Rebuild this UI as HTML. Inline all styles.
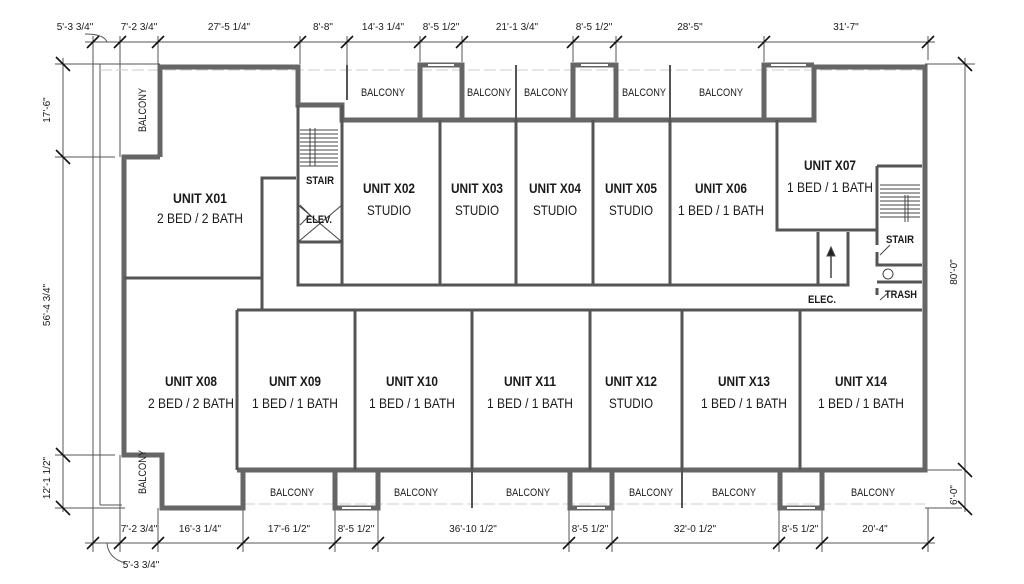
<!DOCTYPE html>
<html><head><meta charset="utf-8"><style>
html,body{margin:0;padding:0;background:#fff;}
svg{display:block;}
text{font-family:"Liberation Sans",sans-serif;fill:#1a1a1a;}
.u{font-size:14px;font-weight:bold;}
.s{font-size:14px;}
.b{font-size:11px;}
.d{font-size:10px;}
</style></head><body>
<svg width="1024" height="584" viewBox="0 0 1024 584" xmlns="http://www.w3.org/2000/svg">
<g stroke="#555" stroke-width="1" fill="none">
<line x1="85" y1="42" x2="935" y2="42"/>
<line x1="55" y1="64" x2="160" y2="64"/>
<line x1="925" y1="64" x2="975" y2="64"/>
<line x1="55" y1="157" x2="115" y2="157"/>
<line x1="55" y1="455" x2="115" y2="455"/>
<line x1="55" y1="508" x2="125" y2="508"/>
<line x1="63" y1="58" x2="63" y2="512"/>
<line x1="965" y1="58" x2="965" y2="512"/>
<line x1="925" y1="470" x2="962" y2="470"/>
<line x1="925" y1="508" x2="962" y2="508"/>
<line x1="85" y1="543" x2="935" y2="543"/>
<line x1="93" y1="36" x2="93" y2="552"/>
<line x1="100" y1="64" x2="100" y2="505"/>
<line x1="100" y1="505" x2="122" y2="505"/>
<line x1="120" y1="36" x2="120" y2="157"/>
<line x1="120" y1="455" x2="120" y2="552"/>
<line x1="158" y1="36" x2="158" y2="64"/>
<line x1="300" y1="36" x2="300" y2="64"/>
<line x1="347" y1="36" x2="347" y2="100"/>
<line x1="420" y1="36" x2="420" y2="62"/>
<line x1="462" y1="36" x2="462" y2="62"/>
<line x1="573" y1="36" x2="573" y2="62"/>
<line x1="616" y1="36" x2="616" y2="62"/>
<line x1="764" y1="36" x2="764" y2="62"/>
<line x1="928" y1="36" x2="928" y2="60"/>
<line x1="158" y1="508" x2="158" y2="552"/>
<line x1="243" y1="508" x2="243" y2="552"/>
<line x1="335" y1="508" x2="335" y2="552"/>
<line x1="378" y1="508" x2="378" y2="552"/>
<line x1="569" y1="508" x2="569" y2="552"/>
<line x1="612" y1="508" x2="612" y2="552"/>
<line x1="779" y1="508" x2="779" y2="552"/>
<line x1="822" y1="508" x2="822" y2="552"/>
<line x1="928" y1="508" x2="928" y2="552"/>
<line x1="100" y1="70" x2="925" y2="70" stroke="#ccc" stroke-dasharray="12 4"/>
<line x1="243" y1="504" x2="925" y2="504" stroke="#ccc" stroke-dasharray="12 4"/>
</g>
<g stroke="#111" stroke-width="1.6">
<path d="M87 48l12-12M114 48l12-12M152 48l12-12M294 48l12-12M341 48l12-12M414 48l12-12M456 48l12-12M567 48l12-12M610 48l12-12M758 48l12-12M922 48l12-12"/>
<path d="M87 549l12-12M114 549l12-12M152 549l12-12M237 549l12-12M329 549l12-12M372 549l12-12M563 549l12-12M606 549l12-12M773 549l12-12M816 549l12-12M922 549l12-12"/>
<path d="M56 57l14 14M56 150l14 14M56 448l14 14M56 501l14 14M958 57l14 14M958 463l14 14M958 501l14 14"/>
</g>
<path d="M85 34 Q104 34 107 42" stroke="#555" fill="none"/>
<path d="M107 543 Q108 558 125 563" stroke="#555" fill="none"/>
<g stroke="#666" stroke-width="5" fill="none" stroke-linejoin="miter">
<path d="M160 157 V67 H298 V105 H342 V120 H814 V67 H925 V470 H237"/>
<path d="M420 120 V65 H462 V120 M573 120 V65 H616 V120 M764 120 V65 H814"/>
<path d="M160 157 H124 V455 H162 V508 H243 V470"/>
<path d="M335 470 V508 H378 V470 M570 470 V508 H612 V470 M780 470 V508 H822 V470"/>
</g>
<g stroke="#fff" stroke-width="2"><path d="M428 65 H454 M581 65 H608 M771 65 H806 M342 508 H371 M577 508 H605 M787 508 H815"/></g>
<g stroke="#555" stroke-width="3" fill="none">
<path d="M298 105 V242 H342 V105"/>
<path d="M342 120 V285 H818"/>
<path d="M440 120 V285 M516 120 V285 M593 120 V285 M670 120 V285"/>
<path d="M777 120 V230 H877"/>
<path d="M818 232 V285 H848 V232"/>
<path d="M877 166 H922 M877 166 V245 M877 252 V265 H922 M877 282 H922 M877 288 V295"/>
<path d="M124 278 H262 V178 H296"/>
<path d="M262 278 V310"/>
<path d="M298 215 V285 H342"/>
<path d="M237 310 H922 M237 310 V470"/>
<path d="M355 310 V470 M472 310 V470 M590 310 V470 M682 310 V470 M800 310 V470"/>
<path d="M472 470 V508 M682 470 V508" stroke-width="2"/>
<path d="M516 65 V120 M670 65 V120 M347 65 V100" stroke-width="2"/>
</g>
<g stroke="#444" stroke-width="1" fill="none">
<path d="M300 130 H338 M300 134 H338 M300 138 H338 M300 142 H338 M300 146 H338 M300 150 H338 M300 154 H338 M300 158 H338 M300 162 H338 M300 166 H338"/>
<path d="M310 128 V166 M315 128 V166"/>
<path d="M880 185 H920 M880 189 H920 M880 193 H920 M880 197 H920 M880 201 H920 M880 205 H920 M880 209 H920 M880 213 H920 M880 217 H920"/>
<path d="M905 195 V222 M908 195 V222"/>
<path d="M300 205 L310 215 L300 225 M298 205 L342 242 M342 205 L298 242"/>
<circle cx="888" cy="274" r="5"/>
<path d="M831 278 V252" stroke-width="1.5"/>
<path d="M827 256 L831 247 L835 256 Z" fill="#222"/>
<path d="M880 255 L890 245 M880 300 L888 293"/>
</g>
<g text-anchor="middle" lengthAdjust="spacingAndGlyphs">
<text class="u" x="200" y="203" textLength="54" lengthAdjust="spacingAndGlyphs">UNIT X01</text><text class="s" x="200" y="223" textLength="86" lengthAdjust="spacingAndGlyphs">2 BED / 2 BATH</text>
<text class="u" x="389" y="193" textLength="52" lengthAdjust="spacingAndGlyphs">UNIT X02</text><text class="s" x="389" y="215" textLength="44" lengthAdjust="spacingAndGlyphs">STUDIO</text>
<text class="u" x="477" y="193" textLength="52" lengthAdjust="spacingAndGlyphs">UNIT X03</text><text class="s" x="477" y="215" textLength="44" lengthAdjust="spacingAndGlyphs">STUDIO</text>
<text class="u" x="555" y="193" textLength="52" lengthAdjust="spacingAndGlyphs">UNIT X04</text><text class="s" x="555" y="215" textLength="44" lengthAdjust="spacingAndGlyphs">STUDIO</text>
<text class="u" x="631" y="193" textLength="52" lengthAdjust="spacingAndGlyphs">UNIT X05</text><text class="s" x="631" y="215" textLength="44" lengthAdjust="spacingAndGlyphs">STUDIO</text>
<text class="u" x="721" y="193" textLength="52" lengthAdjust="spacingAndGlyphs">UNIT X06</text><text class="s" x="721" y="215" textLength="86" lengthAdjust="spacingAndGlyphs">1 BED / 1 BATH</text>
<text class="u" x="830" y="170" textLength="52" lengthAdjust="spacingAndGlyphs">UNIT X07</text><text class="s" x="830" y="192" textLength="86" lengthAdjust="spacingAndGlyphs">1 BED / 1 BATH</text>
<text class="u" x="191" y="386" textLength="52" lengthAdjust="spacingAndGlyphs">UNIT X08</text><text class="s" x="191" y="408" textLength="86" lengthAdjust="spacingAndGlyphs">2 BED / 2 BATH</text>
<text class="u" x="295" y="386" textLength="52" lengthAdjust="spacingAndGlyphs">UNIT X09</text><text class="s" x="295" y="408" textLength="86" lengthAdjust="spacingAndGlyphs">1 BED / 1 BATH</text>
<text class="u" x="412" y="386" textLength="52" lengthAdjust="spacingAndGlyphs">UNIT X10</text><text class="s" x="412" y="408" textLength="86" lengthAdjust="spacingAndGlyphs">1 BED / 1 BATH</text>
<text class="u" x="530" y="386" textLength="52" lengthAdjust="spacingAndGlyphs">UNIT X11</text><text class="s" x="530" y="408" textLength="86" lengthAdjust="spacingAndGlyphs">1 BED / 1 BATH</text>
<text class="u" x="631" y="386" textLength="52" lengthAdjust="spacingAndGlyphs">UNIT X12</text><text class="s" x="631" y="408" textLength="44" lengthAdjust="spacingAndGlyphs">STUDIO</text>
<text class="u" x="744" y="386" textLength="52" lengthAdjust="spacingAndGlyphs">UNIT X13</text><text class="s" x="744" y="408" textLength="86" lengthAdjust="spacingAndGlyphs">1 BED / 1 BATH</text>
<text class="u" x="861" y="386" textLength="52" lengthAdjust="spacingAndGlyphs">UNIT X14</text><text class="s" x="861" y="408" textLength="86" lengthAdjust="spacingAndGlyphs">1 BED / 1 BATH</text>
<text class="b" x="383" y="96" textLength="44" lengthAdjust="spacingAndGlyphs">BALCONY</text>
<text class="b" x="489" y="96" textLength="44" lengthAdjust="spacingAndGlyphs">BALCONY</text>
<text class="b" x="546" y="96" textLength="44" lengthAdjust="spacingAndGlyphs">BALCONY</text>
<text class="b" x="644" y="96" textLength="44" lengthAdjust="spacingAndGlyphs">BALCONY</text>
<text class="b" x="721" y="96" textLength="44" lengthAdjust="spacingAndGlyphs">BALCONY</text>
<text class="b" x="292" y="496" textLength="44" lengthAdjust="spacingAndGlyphs">BALCONY</text>
<text class="b" x="416" y="496" textLength="44" lengthAdjust="spacingAndGlyphs">BALCONY</text>
<text class="b" x="528" y="496" textLength="44" lengthAdjust="spacingAndGlyphs">BALCONY</text>
<text class="b" x="651" y="496" textLength="44" lengthAdjust="spacingAndGlyphs">BALCONY</text>
<text class="b" x="734" y="496" textLength="44" lengthAdjust="spacingAndGlyphs">BALCONY</text>
<text class="b" x="873" y="496" textLength="44" lengthAdjust="spacingAndGlyphs">BALCONY</text>
<text class="b" x="146" y="110" transform="rotate(-90 146 110)" textLength="44" lengthAdjust="spacingAndGlyphs">BALCONY</text>
<text class="b" x="146" y="472" transform="rotate(-90 146 472)" textLength="44" lengthAdjust="spacingAndGlyphs">BALCONY</text>
<text class="b" font-weight="bold" x="320" y="184" textLength="28" lengthAdjust="spacingAndGlyphs">STAIR</text>
<text class="b" font-weight="bold" x="319" y="223" textLength="26" lengthAdjust="spacingAndGlyphs">ELEV.</text>
<text class="b" font-weight="bold" x="900" y="243" textLength="28" lengthAdjust="spacingAndGlyphs">STAIR</text>
<text class="b" font-weight="bold" x="901" y="298" textLength="32" lengthAdjust="spacingAndGlyphs">TRASH</text>
<text class="b" font-weight="bold" x="822" y="303" textLength="28" lengthAdjust="spacingAndGlyphs">ELEC.</text>
<text class="d" x="75" y="30">5'-3 3/4"</text>
<text class="d" x="139" y="30">7'-2 3/4"</text>
<text class="d" x="229" y="30">27'-5 1/4"</text>
<text class="d" x="323" y="30">8'-8"</text>
<text class="d" x="383" y="30">14'-3 1/4"</text>
<text class="d" x="441" y="30">8'-5 1/2"</text>
<text class="d" x="517" y="30">21'-1 3/4"</text>
<text class="d" x="594" y="30">8'-5 1/2"</text>
<text class="d" x="690" y="30">28'-5"</text>
<text class="d" x="846" y="30">31'-7"</text>
<text class="d" x="139" y="532">7'-2 3/4"</text>
<text class="d" x="200" y="532">16'-3 1/4"</text>
<text class="d" x="289" y="532">17'-6 1/2"</text>
<text class="d" x="356" y="532">8'-5 1/2"</text>
<text class="d" x="473" y="532">36'-10 1/2"</text>
<text class="d" x="590" y="532">8'-5 1/2"</text>
<text class="d" x="695" y="532">32'-0 1/2"</text>
<text class="d" x="800" y="532">8'-5 1/2"</text>
<text class="d" x="875" y="532">20'-4"</text>
<text class="d" x="141" y="568">5'-3 3/4"</text>
<text class="d" x="50" y="110" transform="rotate(-90 50 110)">17'-6"</text>
<text class="d" x="50" y="305" transform="rotate(-90 50 305)">56'-4 3/4"</text>
<text class="d" x="50" y="478" transform="rotate(-90 50 478)">12'-1 1/2"</text>
<text class="d" x="957" y="272" transform="rotate(-90 957 272)">80'-0"</text>
<text class="d" x="957" y="495" transform="rotate(-90 957 495)">6'-0"</text>
</g>
</svg>
</body></html>
